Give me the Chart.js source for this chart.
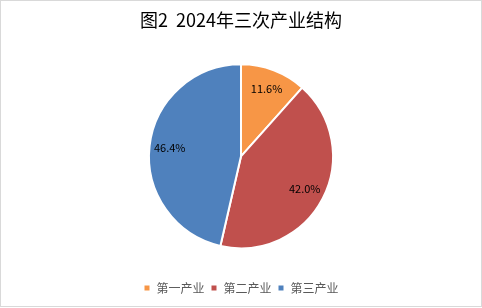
<!DOCTYPE html>
<html>
<head>
<meta charset="utf-8">
<script src="https://cdn.jsdelivr.net/npm/chart.js@4/dist/chart.umd.min.js"></script>
<style>
  html, body { margin: 0; padding: 0; background: #fff; }
  #box { position: relative; width: 480px; height: 305px; border: 1px solid #d9d9d9; }
  canvas { position: absolute; left: -1px; top: -1px; }
</style>
</head>
<body>
<div id="box"><canvas id="chart" width="482" height="308"></canvas></div>
<script>
'use strict';

const sectors = ['第一产业', '第二产业', '第三产业'];
const shares = [11.6, 42.0, 46.4];
const sliceColors = ['#F79646', '#C0504D', '#4F81BD'];

const cjk = '"Microsoft YaHei", "Noto Sans CJK SC", sans-serif';

// draw the percentage on each slice
const sliceLabels = {
  id: 'sliceLabels',
  afterDatasetsDraw(chart) {
    const ctx = chart.ctx;
    const meta = chart.getDatasetMeta(0);
    ctx.save();
    ctx.font = '11px ' + cjk;
    ctx.fillStyle = '#000';
    ctx.textAlign = 'center';
    ctx.textBaseline = 'middle';
    meta.data.forEach((arc, i) => {
      const p = arc.getProps(['x', 'y', 'startAngle', 'endAngle', 'outerRadius'], true);
      const mid = (p.startAngle + p.endAngle) / 2;
      const d = p.outerRadius * 0.78;
      ctx.fillText(shares[i].toFixed(1) + '%', p.x + Math.cos(mid) * d, p.y + Math.sin(mid) * d);
    });
    ctx.restore();
  }
};

new Chart(document.getElementById('chart'), {
  type: 'pie',
  data: {
    labels: sectors,
    datasets: [{
      data: shares,
      backgroundColor: sliceColors,
      borderColor: '#fff',
      borderWidth: 2,
      radius: 92
    }]
  },
  options: {
    responsive: false,
    animation: false,
    layout: { padding: { top: 0, bottom: 4, left: 0, right: 0 } },
    plugins: {
      title: {
        display: true,
        text: '图2  2024年三次产业结构',
        color: '#000',
        font: { family: cjk, size: 18, weight: 'normal' },
        padding: { top: 9, bottom: 6 }
      },
      legend: {
        position: 'bottom',
        labels: {
          color: '#595959',
          font: { family: cjk, size: 12 },
          boxWidth: 7,
          boxHeight: 7,
          padding: 6
        }
      },
      tooltip: { enabled: false }
    }
  },
  plugins: [sliceLabels]
});
</script>
</body>
</html>
